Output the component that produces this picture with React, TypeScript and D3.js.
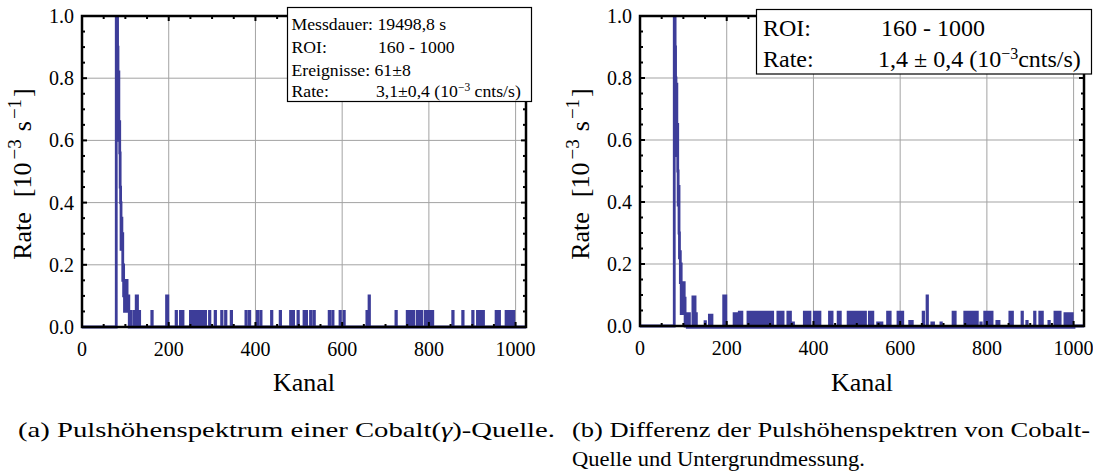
import React from 'react';
import * as d3 from 'd3';

const W = 1093;
const H = 473;
const X_MAX = 1024;

// tick labels
const xMajorTicks = [0, 200, 400, 600, 800, 1000];
const yMajorTicks = [0, 0.2, 0.4, 0.6, 0.8, 1.0];
const yTickLabels = ['0.0', '0.2', '0.4', '0.6', '0.8', '1.0'];

// (a) Cobalt source: peak region, [channel, rate]
const leftPeak: [number, number][] = [
  [79, 1.8], [80, 1.4], [81, 1.05], [82, 0.9], [83, 0.77], [84, 0.82], [85, 0.6],
  [86, 0.66], [87, 0.56], [88, 0.45], [89, 0.4], [90, 0.25], [91, 0.35], [92, 0.25],
  [93, 0.3], [94, 0.15], [95, 0.2], [96, 0.1], [97, 0.15], [98, 0.05], [99, 0.1],
  [100, 0.15], [101, 0.05], [102, 0.1], [103, 0.15], [104, 0.05], [105, 0.1],
  [106, 0.05], [107, 0.1], [108, 0.05], [110, 0.05], [112, 0.05],
];
// (a) isolated counts, [channel, rate]
const leftSpikes: [number, number][] = [
  [120, 0.05], [125, 0.1], [127, 0.1], [132, 0.05], [161, 0.05], [195, 0.1], [197, 0.1],
  [217, 0.05], [227, 0.05], [232, 0.05],
  [250, 0.05], [254, 0.05], [258, 0.05], [262, 0.05], [265, 0.05], [268, 0.05],
  [272, 0.05], [276, 0.05], [280, 0.05], [284, 0.05],
  [294, 0.05], [307, 0.05], [322, 0.05], [331, 0.05], [344, 0.05],
  [378, 0.05], [386, 0.05], [404, 0.05], [412, 0.05], [437, 0.05], [457, 0.05],
  [481, 0.05], [487, 0.05], [498, 0.05], [512, 0.05], [517, 0.05], [527, 0.05], [535, 0.05],
  [570, 0.05], [578, 0.05], [595, 0.05], [604, 0.05],
  [657, 0.05], [662, 0.1], [724, 0.05],
  [750, 0.05], [755, 0.05], [760, 0.05], [764, 0.05], [773, 0.05], [778, 0.05],
  [783, 0.05], [792, 0.05], [797, 0.05], [803, 0.05], [808, 0.05],
  [855, 0.05], [878, 0.05], [901, 0.05], [912, 0.05], [918, 0.05], [925, 0.05],
  [955, 0.05], [962, 0.05], [978, 0.05], [984, 0.05], [990, 0.05], [995, 0.05],
];
const leftBaseline: [number, number, number][] = [];

// (b) difference source - background: peak region
const rightPeak: [number, number][] = [
  [79, 1.5], [80, 1.2], [81, 0.9], [82, 0.8], [83, 0.74], [84, 0.78], [85, 0.55],
  [86, 0.65], [87, 0.5], [88, 0.39], [89, 0.45], [90, 0.3], [91, 0.22], [92, 0.24],
  [93, 0.14], [94, 0.2], [95, 0.04], [96, 0.14], [97, 0.1], [98, 0.04], [99, 0.09],
  [100, 0.04], [101, 0.14], [102, 0.04], [103, 0.09], [104, 0.0], [105, 0.04],
  [106, 0.04], [108, 0.04], [112, 0.04], [113, 0.04],
];
const rightSpikes: [number, number][] = [
  [122, 0.094], [126, 0.094], [129, 0.04], [150, 0.014], [160, 0.035], [165, 0.035],
  [193, 0.097], [197, 0.097], [217, 0.04], [222, 0.04], [229, 0.045], [234, 0.045],
  [249, 0.045], [253, 0.045], [257, 0.045], [261, 0.045], [265, 0.045], [269, 0.045],
  [273, 0.045], [277, 0.045], [281, 0.045], [285, 0.045], [290, 0.045], [295, 0.045],
  [300, 0.045], [305, 0.045], [318, 0.045], [324, 0.045], [329, 0.045],
  [341, 0.045], [346, 0.045], [353, 0.01], [379, 0.045], [385, 0.045], [391, 0.045],
  [402, 0.045], [408, 0.045], [414, 0.045], [437, 0.045], [442, 0.045],
  [457, 0.045], [461, 0.045], [480, 0.045], [484, 0.045], [488, 0.045], [493, 0.045],
  [499, 0.045], [504, 0.045], [508, 0.045], [514, 0.045], [519, 0.045],
  [529, 0.045], [536, 0.045], [548, 0.01], [552, 0.01], [557, 0.01],
  [571, 0.045], [576, 0.045], [595, 0.045], [600, 0.045], [605, 0.045],
  [622, 0.015], [627, 0.015], [653, 0.045], [662, 0.097], [673, 0.01], [676, 0.01],
  [694, 0.01], [722, 0.045], [726, 0.045],
  [749, 0.045], [754, 0.045], [759, 0.045], [764, 0.045], [769, 0.045], [773, 0.045],
  [777, 0.045], [786, 0.01], [795, 0.045], [800, 0.045], [805, 0.045], [811, 0.045],
  [823, 0.015], [827, 0.015], [853, 0.045], [858, 0.045], [881, 0.045], [892, 0.015],
  [910, 0.045], [922, 0.045], [927, 0.045], [943, 0.015],
  [957, 0.045], [962, 0.045], [968, 0.045], [980, 0.04], [985, 0.04], [990, 0.04], [996, 0.04],
];
const rightBaseline: [number, number, number][] = [[109, 1000, -0.0045]];

const LINE = '#3d3d99';
const GRID = '#a3a3a3';
const SERIF = '"Liberation Serif", "Times New Roman", serif';

function buildSeries(
  peak: [number, number][],
  spikes: [number, number][],
  baseline: [number, number, number][]
): [number, number][] {
  const vals: number[] = new Array(X_MAX + 1).fill(0);
  baseline.forEach(([a, b, v]) => {
    for (let c = a; c <= b; c++) vals[c] = v;
  });
  peak.forEach(([c, v]) => (vals[c] = v));
  spikes.forEach(([c, v]) => (vals[c] = v));
  return vals.map((v, i) => [i, v] as [number, number]);
}

type PanelProps = {
  id: string;
  left: number;
  right: number;
  top: number;
  bottom: number;
  series: [number, number][];
};

function Panel({ id, left, right, top, bottom, series }: PanelProps) {
  const x = d3.scaleLinear().domain([0, X_MAX]).range([left, right]);
  const y = d3.scaleLinear().domain([0, 1]).range([bottom, top]);
  const line = d3
    .line<[number, number]>()
    .x((d) => x(d[0]))
    .y((d) => y(d[1]))
    .curve(d3.curveStepAfter);
  const xMinor = d3.range(50, 1001, 50).filter((v) => v % 200 !== 0);
  const yMinor = d3.range(1, 20).map((i) => i * 0.05).filter((_, i) => (i + 1) % 4 !== 0);
  const tick = { stroke: '#000', strokeWidth: 2 };
  return (
    <g>
      <defs>
        <clipPath id={id}>
          <rect x={left} y={top} width={right - left} height={bottom - top + 6} />
        </clipPath>
      </defs>
      {xMajorTicks.slice(1).map((v) => (
        <line key={'gx' + v} x1={x(v)} x2={x(v)} y1={top} y2={bottom} stroke={GRID} strokeWidth={1} />
      ))}
      {yMajorTicks.slice(1, -1).map((v) => (
        <line key={'gy' + v} x1={left} x2={right} y1={y(v)} y2={y(v)} stroke={GRID} strokeWidth={1} />
      ))}
      <path
        d={line(series) || ''}
        fill="none"
        stroke={LINE}
        strokeWidth={2.8}
        strokeLinejoin="miter"
        clipPath={`url(#${id})`}
      />
      {/* ticks */}
      {xMajorTicks.map((v) => (
        <g key={'tx' + v}>
          <line x1={x(v)} x2={x(v)} y1={bottom} y2={bottom - 5} {...tick} />
          <line x1={x(v)} x2={x(v)} y1={top} y2={top + 5} {...tick} />
        </g>
      ))}
      {xMinor.map((v) => (
        <g key={'mx' + v}>
          <line x1={x(v)} x2={x(v)} y1={bottom} y2={bottom - 3} {...tick} />
          <line x1={x(v)} x2={x(v)} y1={top} y2={top + 3} {...tick} />
        </g>
      ))}
      {yMajorTicks.map((v) => (
        <g key={'ty' + v}>
          <line x1={left} x2={left + 5} y1={y(v)} y2={y(v)} {...tick} />
          <line x1={right} x2={right - 5} y1={y(v)} y2={y(v)} {...tick} />
        </g>
      ))}
      {yMinor.map((v) => (
        <g key={'my' + v}>
          <line x1={left} x2={left + 3} y1={y(v)} y2={y(v)} {...tick} />
          <line x1={right} x2={right - 3} y1={y(v)} y2={y(v)} {...tick} />
        </g>
      ))}
      <rect x={left} y={top} width={right - left} height={bottom - top} fill="none" stroke="#000" strokeWidth={2.5} />
      {/* tick labels */}
      {xMajorTicks.map((v) => (
        <text key={'lx' + v} x={x(v)} y={bottom + 29} textAnchor="middle" fontSize={20} fontFamily={SERIF}>
          {v}
        </text>
      ))}
      {yMajorTicks.map((v, i) => (
        <text key={'ly' + v} x={left - 8} y={y(v) + 7} textAnchor="end" fontSize={20} fontFamily={SERIF}>
          {yTickLabels[i]}
        </text>
      ))}
      {/* axis titles */}
      <text x={(left + right) / 2} y={391} textAnchor="middle" fontSize={26} fontFamily={SERIF}>
        Kanal
      </text>
      <text
        transform={`translate(${left - 51},${174}) rotate(-90)`}
        textAnchor="middle"
        fontSize={26}
        fontFamily={SERIF}
      >
        Rate
        <tspan dx={15}>[10</tspan>
        <tspan dx={3} dy={-10} fontSize={19}>−3</tspan>
        <tspan dx={8} dy={10}>s</tspan>
        <tspan dx={2} dy={-10} fontSize={19}>−1</tspan>
        <tspan dx={2} dy={10}>]</tspan>
      </text>
    </g>
  );
}

export default function App() {
  const leftSeries = buildSeries(leftPeak, leftSpikes, leftBaseline);
  const rightSeries = buildSeries(rightPeak, rightSpikes, rightBaseline);
  return (
    <svg
      width={W}
      height={H}
      viewBox={`0 0 ${W} ${H}`}
      style={{ position: 'absolute', left: 0, top: 0, background: '#fff' }}
    >
      <rect x={0} y={0} width={W} height={H} fill="#fff" />
      <Panel id="clipA" left={82} right={526} top={16} bottom={327} series={leftSeries} />
      <Panel id="clipB" left={640} right={1084} top={16} bottom={326} series={rightSeries} />

      {/* legend (a) */}
      <g fontFamily={SERIF} fontSize={17.7}>
        <rect x={287.5} y={7.5} width={244} height={94} fill="#fff" stroke="#000" strokeWidth={1.2} />
        <text x={291.5} y={29.5}>Messdauer: 19498,8 s</text>
        <text x={291.5} y={52.5}>ROI:</text>
        <text x={378} y={52.5}>160 - 1000</text>
        <text x={291.5} y={75.5}>Ereignisse: 61±8</text>
        <text x={291.5} y={97}>Rate:</text>
        <text x={376} y={97}>
          3,1±0,4 (10
          <tspan dy={-6} fontSize={11.5}>−3</tspan>
          <tspan dy={6}> cnts/s)</tspan>
        </text>
      </g>

      {/* legend (b) */}
      <g fontFamily={SERIF} fontSize={24}>
        <rect x={756.5} y={9.5} width={335} height={64.5} fill="#fff" stroke="#000" strokeWidth={1.2} />
        <text x={763} y={36}>ROI:</text>
        <text x={881} y={36}>160 - 1000</text>
        <text x={763} y={67}>Rate:</text>
        <text x={878} y={67}>
          1,4 ± 0,4 (10
          <tspan dy={-8} fontSize={16}>−3</tspan>
          <tspan dy={8}>cnts/s)</tspan>
        </text>
      </g>

      {/* captions */}
      <g fontFamily={SERIF} fontSize={21}>
        <text x={18} y={437} textLength={537} lengthAdjust="spacingAndGlyphs">
          (a)  Pulshöhenspektrum einer Cobalt(<tspan fontStyle="italic">γ</tspan>)-Quelle.
        </text>
        <text x={572} y={437} textLength={518} lengthAdjust="spacingAndGlyphs">
          (b)  Differenz der Pulshöhenspektren von Cobalt-
        </text>
        <text x={572} y={466} textLength={293} lengthAdjust="spacingAndGlyphs">
          Quelle und Untergrundmessung.
        </text>
      </g>
    </svg>
  );
}
